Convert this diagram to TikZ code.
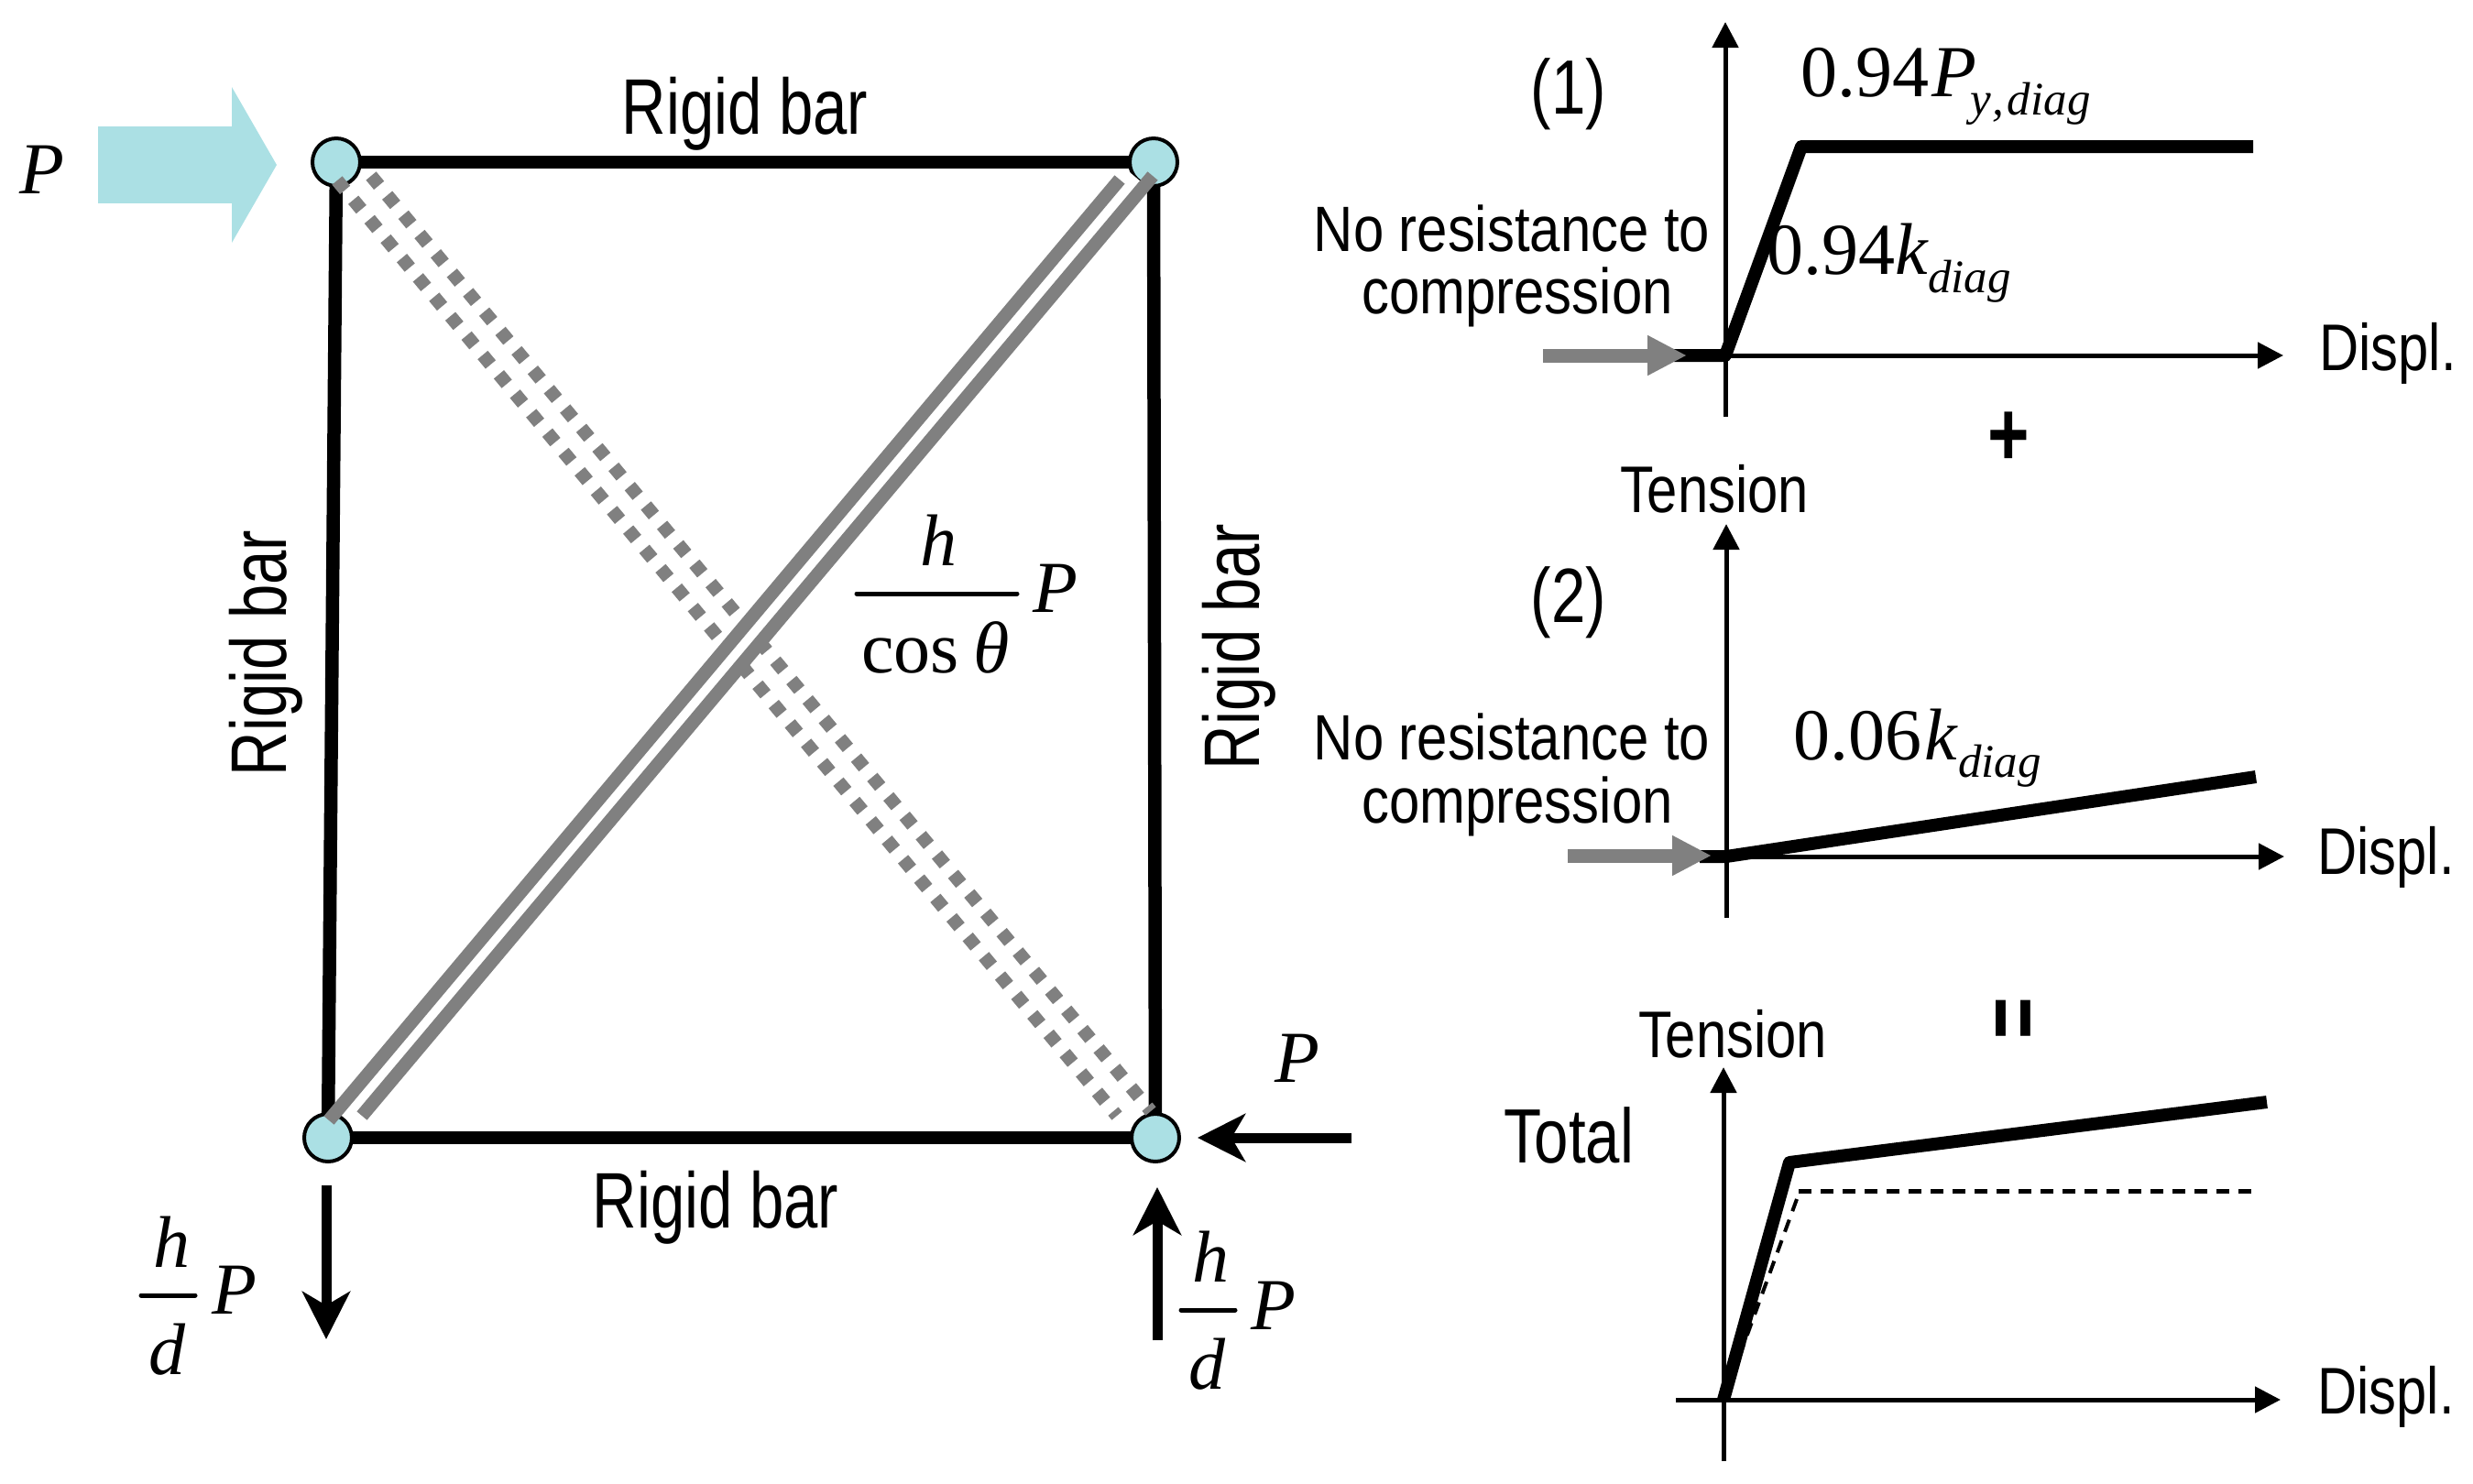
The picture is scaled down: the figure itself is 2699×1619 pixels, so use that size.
\documentclass[tikz,border=0pt]{standalone}
\usepackage{fontspec}
\usetikzlibrary{arrows.meta}
\setmainfont{Liberation Serif}
\newfontfamily\narrowS[FakeStretch=0.78]{Liberation Sans}
\newfontfamily\narrowA[FakeStretch=0.83]{Liberation Sans}
\newfontfamily\narrowG[FakeStretch=0.80]{Liberation Sans}
\newfontfamily\narrowT[FakeStretch=0.855]{Liberation Sans}
\newcommand{\fsz}[1]{\fontsize{#1}{#1}\selectfont}
\definecolor{jointfill}{HTML}{ABE0E4}
\definecolor{tiegray}{HTML}{808080}
\tikzset{
  every node/.style={inner sep=0pt,outer sep=0pt},
  joint/.style={circle,draw=black,fill=jointfill,line width=2pt,minimum size=26pt},
  bar/.style={line width=7.25pt,black},
  tiesolid/.style={line width=7.25pt,tiegray},
  tiedot/.style={line width=7.25pt,tiegray,dash pattern=on 6.75pt off 7.03pt},
  band/.style={line width=10pt,white},
  load/.style={line width=5.5pt,-{Stealth[length=26pt,width=26pt,inset=7.5pt]}},
  axis/.style={line width=2.5pt,-{Triangle[length=14pt,width=14pt]}},
  curve/.style={line width=7pt,line join=round},
  elastic/.style={line width=2.5pt,dash pattern=on 7pt off 5pt},
  grayarrow/.style={line width=7.5pt,tiegray,-{Triangle[length=21.5pt,width=20.5pt]}},
  bigarrow/.style={line width=42pt,jointfill,-{Triangle[length=24.5pt,width=84pt]}},
  fracbar/.style={line width=2.5pt,line cap=round},
  rm/.style={font=\fsz{40}},
  it/.style={font=\fsz{40}\itshape},
  sub/.style={font=\fsz{25.5}\itshape},
  rigid/.style={font=\narrowS\fsz{43}},
  ax/.style={font=\narrowA\fsz{36}},
  noresist/.style={font=\narrowT\fsz{35}},
  tag/.style={font=\narrowG\fsz{42}},
}
\begin{document}
\begin{tikzpicture}[x=0.5pt,y=-0.5pt]
\useasboundingbox (0,0) rectangle (2699,1619);
% joints
\node[joint] (tl) at (367,177) {};
\node[joint] (tr) at (1259,177) {};
\node[joint] (bl) at (358,1242) {};
\node[joint] (br) at (1261,1242) {};
% rigid bars
\draw[bar] (tl) -- (tr);
\draw[bar] (tr) -- (br);
\draw[bar] (br) -- (bl);
\draw[bar] (bl) -- (tl);
% tension diagonal
\coordinate (da1) at (359,1223); \coordinate (da2) at (1222,196);
\coordinate (db1) at (395,1218); \coordinate (db2) at (1258,192);
% compression diagonal (dotted)
\coordinate (ca1) at (368,197);  \coordinate (ca2) at (1219,1218);
\coordinate (cb1) at (405,192);  \coordinate (cb2) at (1256,1213);
\draw[tiedot] (ca1) -- (ca2);
\draw[tiedot] (cb1) -- (cb2);
\coordinate (wa) at (377,1220); \coordinate (wb) at (1240,194);
\draw[band] (wa) -- (wb);
\draw[tiesolid] (da1) -- (da2);
\draw[tiesolid] (db1) -- (db2);
% loads
\coordinate (pa) at (107,180); \coordinate (pb) at (302,180);
\draw[bigarrow] (pa) -- (pb);
\node[it,anchor=base west] (pl) at (21,211) {P};
\coordinate (ra) at (1475,1242); \coordinate (rb) at (1307,1242);
\draw[load] (ra) -- (rb);
\node[it,anchor=base west] (pr) at (1391,1181) {P};
\coordinate (da) at (356,1294); \coordinate (db) at (356,1462);
\draw[load] (da) -- (db);
\coordinate (ua) at (1263,1463); \coordinate (ub) at (1263,1296);
\draw[load] (ua) -- (ub);
% left fraction
\node[it,anchor=base west] (h1) at (167,1383) {h};
\coordinate (f1a) at (154,1414); \coordinate (f1b) at (213,1414);
\draw[fracbar] (f1a) -- (f1b);
\node[it,anchor=base west] (d1) at (162,1500) {d};
\node[it,anchor=base west] (p1) at (231,1434) {P};
% right fraction
\node[it,anchor=base west] (h2) at (1301,1399) {h};
\coordinate (f2a) at (1289,1430); \coordinate (f2b) at (1348,1430);
\draw[fracbar] (f2a) -- (f2b);
\node[it,anchor=base west] (d2) at (1297,1516) {d};
\node[it,anchor=base west] (p2) at (1365,1451) {P};
% centre fraction
\node[it,anchor=base west] (h3) at (1004,617) {h};
\coordinate (f3a) at (935,648); \coordinate (f3b) at (1110,648);
\draw[fracbar] (f3a) -- (f3b);
\node[rm,anchor=base west] (c3) at (940,734) {cos};
\node[it,anchor=base west] (t3) at (1062,734) {θ};
\node[it,anchor=base west] (p3) at (1127,668) {P};
% rigid bar labels
\node[rigid,anchor=base] (r1) at (813,146) {Rigid bar};
\node[rigid,anchor=base] (r2) at (781,1340) {Rigid bar};
\node[rigid,anchor=base,rotate=90] (r3) at (312,713) {Rigid bar};
\node[rigid,anchor=base,rotate=90] (r4) at (1374,706) {Rigid bar};
% graph 1
\coordinate (o1t) at (1883,24); \coordinate (o1b) at (1883,455);
\coordinate (o1l) at (1883,388); \coordinate (o1r) at (2492,388);
\draw[axis] (o1b) -- (o1t);
\draw[axis] (o1l) -- (o1r);
\coordinate (k1a) at (1827,388); \coordinate (k1b) at (1883,388);
\coordinate (k1c) at (1966,160); \coordinate (k1d) at (2459,160);
\draw[curve] (k1a) -- (k1b) -- (k1c) -- (k1d);
\coordinate (g1a) at (1684,388); \coordinate (g1b) at (1841,388);
\draw[grayarrow] (g1a) -- (g1b);
\node[tag,anchor=base] (n1) at (1712,124) {(1)};
\node[rm,anchor=base west] (v1) at (1965,105) {0.94\kern1.5pt\textit{P}};
\node[sub,anchor=base west] (v1s) at (2150,125) {y\kern1pt,\kern1.8pt diag};
\node[rm,anchor=base west] (v2) at (1928,299) {0.94\textit{k}};
\node[sub,anchor=base west] (v2s) at (2104,319) {diag};
\node[noresist,anchor=base] (nr1) at (1650,274) {No resistance to};
\node[noresist,anchor=base] (nc1) at (1656,342) {compression};
\node[ax,anchor=base] (dx1) at (2606,404) {Displ.};
\node[font=\narrowS\bfseries\fsz{50},anchor=base] (plus) at (2192,508) {+};
% graph 2
\node[ax,anchor=base] (ty2) at (1871,559) {Tension};
\coordinate (o2t) at (1884,572); \coordinate (o2b) at (1884,1002);
\coordinate (o2l) at (1884,935); \coordinate (o2r) at (2493,935);
\draw[axis] (o2b) -- (o2t);
\draw[axis] (o2l) -- (o2r);
\coordinate (k2a) at (1855,935); \coordinate (k2b) at (1884,935);
\coordinate (k2c) at (2462,848);
\draw[curve] (k2a) -- (k2b) -- (k2c);
\coordinate (g2a) at (1711,934); \coordinate (g2b) at (1868,934);
\draw[grayarrow] (g2a) -- (g2b);
\node[tag,anchor=base] (n2) at (1712,679) {(2)};
\node[rm,anchor=base west] (v3) at (1957,829) {0.06\kern1.5pt\textit{k}};
\node[sub,anchor=base west] (v3s) at (2137,848) {diag};
\node[noresist,anchor=base] (nr2) at (1650,829) {No resistance to};
\node[noresist,anchor=base] (nc2) at (1656,898) {compression};
\node[ax,anchor=base] (dx2) at (2604,954) {Displ.};
\node[font=\narrowS\bfseries\fsz{50},anchor=center,rotate=90] (eq) at (2204,1112) {=};
% graph 3
\node[ax,anchor=base] (ty3) at (1891,1154) {Tension};
\coordinate (o3t) at (1881,1165); \coordinate (o3b) at (1881,1595);
\coordinate (o3l) at (1829,1528); \coordinate (o3r) at (2489,1528);
\draw[axis] (o3b) -- (o3t);
\draw[axis] (o3l) -- (o3r);
\coordinate (k3a) at (1881,1528); \coordinate (k3b) at (1953,1269);
\coordinate (k3c) at (2474,1203);
\coordinate (e3a) at (1963,1300); \coordinate (e3b) at (2457,1300);
\coordinate (e3c) at (1961,1309); \coordinate (e3d) at (1881,1528);
\draw[elastic] (e3a) -- (e3b);
\draw[elastic,line width=2pt] (e3c) -- (e3d);
\draw[curve] (k3a) -- (k3b) -- (k3c);
\node[tag,anchor=base] (tot) at (1712,1269) {Total};
\node[ax,anchor=base] (dx3) at (2604,1543) {Displ.};
\end{tikzpicture}
\end{document}
